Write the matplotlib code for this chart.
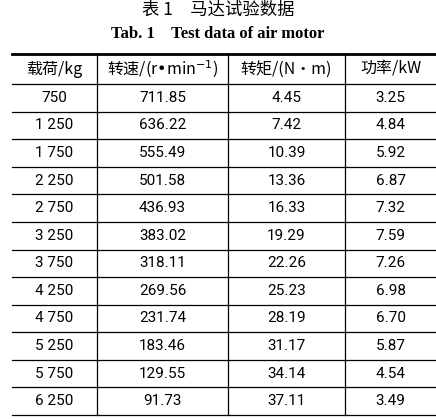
import matplotlib.pyplot as plt

plt.rcParams['font.family'] = ['Noto Sans CJK SC', 'DejaVu Sans']

headers = ['载荷/kg', '转速/(r•min$^{-1}$)', '转矩/(N•m)', '功率/kW']
loads = ['750', '1 250', '1 750', '2 250', '2 750', '3 250', '3 750', '4 250',
         '4 750', '5 250', '5 750', '6 250']
speed = ['711.85', '636.22', '555.49', '501.58', '436.93', '383.02', '318.11',
         '269.56', '231.74', '183.46', '129.55', '91.73']
torque = ['4.45', '7.42', '10.39', '13.36', '16.33', '19.29', '22.26', '25.23',
          '28.19', '31.17', '34.14', '37.11']
power = ['3.25', '4.84', '5.92', '6.87', '7.32', '7.59', '7.26', '6.98',
         '6.70', '5.87', '4.54', '3.49']

W, H = 436, 419
fig = plt.figure(figsize=(W / 100, H / 100), dpi=100)
ax = fig.add_axes([0, 0, 1, 1])
ax.set_xlim(0, W)
ax.set_ylim(H, 0)
ax.axis('off')

ax.text(218, 10, '表 1　马达试验数据', ha='center', va='center', fontsize=12.5)
ax.text(218, 34, 'Tab. 1    Test data of air motor', ha='center', va='center',
        fontsize=12, fontweight='bold', family='Liberation Serif')

xs = [12, 97, 228, 345, 436]
top, head_bot, bottom = 54, 84, 415
n = len(loads)
rh = (bottom - head_bot) / n
ys = [top, head_bot] + [head_bot + rh * (i + 1) for i in range(n)]

ax.plot([xs[0], xs[-1]], [top, top], color='black', lw=2)
for y in ys[1:]:
    ax.plot([xs[0], xs[-1]], [y, y], color='black', lw=0.9)
for x in xs[1:-1]:
    ax.plot([x, x], [top, bottom], color='black', lw=0.9)

cx = [(xs[i] + xs[i + 1]) / 2 for i in range(4)]
for c, h in zip(cx, headers):
    ax.text(c, (top + head_bot) / 2, h, ha='center', va='center', fontsize=11.5)
cols = [loads, speed, torque, power]
for j, col in enumerate(cols):
    for i, v in enumerate(col):
        ax.text(cx[j], head_bot + rh * (i + 0.5), v, ha='center', va='center',
                fontsize=11, family='Roboto')

fig.savefig('out.png', dpi=100)
